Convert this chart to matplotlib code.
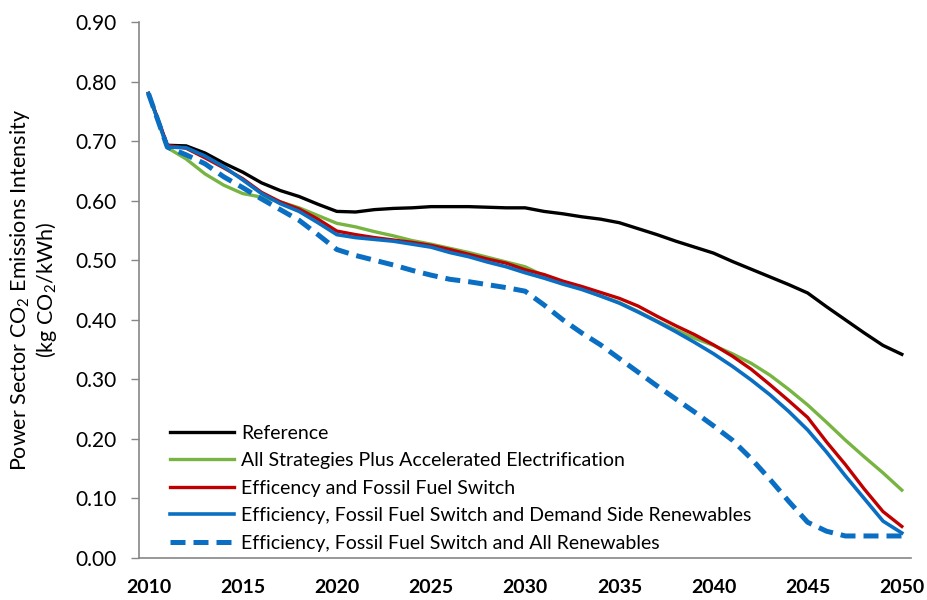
# Power sector CO2 emissions intensity under different strategy scenarios, 2010-2050

import numpy as np
import matplotlib.pyplot as plt

plt.rcParams['font.family'] = ['Lato', 'DejaVu Sans']

# Scenario data (kg CO2 / kWh) ..................................................
years = np.arange(2010, 2051)

reference = [0.780, 0.693, 0.692, 0.680, 0.663, 0.648, 0.630, 0.617, 0.607, 0.594,
             0.582, 0.581, 0.585, 0.587, 0.588, 0.590, 0.590, 0.590, 0.589, 0.588,
             0.588, 0.582, 0.578, 0.573, 0.569, 0.563, 0.553, 0.543, 0.532, 0.522,
             0.512, 0.498, 0.485, 0.472, 0.459, 0.445, 0.422, 0.400, 0.378, 0.357,
             0.342]

accel_electrification = [0.780, 0.689, 0.670, 0.645, 0.626, 0.612, 0.606, 0.598, 0.588, 0.575,
                         0.562, 0.556, 0.548, 0.541, 0.533, 0.527, 0.520, 0.513, 0.505, 0.497,
                         0.489, 0.474, 0.462, 0.452, 0.440, 0.429, 0.414, 0.398, 0.383, 0.369,
                         0.357, 0.343, 0.327, 0.307, 0.283, 0.257, 0.228, 0.198, 0.170, 0.143,
                         0.114]

efficiency_fuel_switch = [0.780, 0.693, 0.688, 0.672, 0.655, 0.637, 0.614, 0.598, 0.586, 0.569,
                          0.549, 0.543, 0.538, 0.534, 0.530, 0.525, 0.518, 0.510, 0.502, 0.495,
                          0.484, 0.476, 0.465, 0.456, 0.446, 0.436, 0.423, 0.406, 0.390, 0.375,
                          0.358, 0.339, 0.317, 0.291, 0.264, 0.236, 0.195, 0.157, 0.116, 0.078,
                          0.053]

demand_side_renewables = [0.780, 0.690, 0.689, 0.675, 0.657, 0.635, 0.612, 0.595, 0.582, 0.563,
                          0.543, 0.538, 0.535, 0.532, 0.527, 0.522, 0.513, 0.506, 0.497, 0.489,
                          0.479, 0.470, 0.460, 0.451, 0.440, 0.428, 0.413, 0.397, 0.380, 0.362,
                          0.343, 0.322, 0.299, 0.274, 0.246, 0.215, 0.178, 0.138, 0.100, 0.062,
                          0.042]

all_renewables = [0.780, 0.690, 0.677, 0.662, 0.640, 0.622, 0.603, 0.585, 0.567, 0.543,
                  0.518, 0.508, 0.500, 0.492, 0.483, 0.475, 0.468, 0.464, 0.459, 0.454,
                  0.448, 0.425, 0.400, 0.378, 0.358, 0.335, 0.312, 0.289, 0.267, 0.245,
                  0.222, 0.198, 0.167, 0.132, 0.095, 0.060, 0.045, 0.037, 0.037, 0.037,
                  0.037]

labels = ["Reference",
          "All Strategies Plus Accelerated Electrification",
          "Efficency and Fossil Fuel Switch",
          "Efficiency, Fossil Fuel Switch and Demand Side Renewables",
          "Efficiency, Fossil Fuel Switch and All Renewables"]

x_ticks = [2010, 2015, 2020, 2025, 2030, 2035, 2040, 2045, 2050]
y_ticks = np.arange(0, 0.91, 0.1)


# Plot ...........................................................................
fig = plt.figure(figsize=(9.27, 6), dpi=100)
ax = fig.add_axes([0.150, 0.07, 0.833, 0.8933])

blue = "#0A6FC2"
ax.plot(years, reference, color="black", lw=2.4, label=labels[0])
ax.plot(years, accel_electrification, color="#77B442", lw=2.4, label=labels[1])
ax.plot(years, efficiency_fuel_switch, color="#C00000", lw=2.4, label=labels[2])
ax.plot(years, demand_side_renewables, color=blue, lw=2.6, label=labels[3])
ax.plot(years, all_renewables, color=blue, lw=3.6, ls=(0, (3.0, 1.6)), label=labels[4])

ax.set_xlim(2009.5, 2050.5)
ax.set_ylim(0, 0.9)
ax.set_xticks(x_ticks)
ax.set_xticklabels([str(x) for x in x_ticks], fontweight="bold", fontsize=14)
ax.set_yticks(y_ticks)
ax.set_yticklabels([f"{y:.2f}" for y in y_ticks], fontsize=15)
ax.tick_params(axis="x", length=0, pad=15)
ax.tick_params(axis="y", direction="out", length=6, width=1, color="#868686", pad=10)

for side in ["top", "right"]:
    ax.spines[side].set_visible(False)
for side in ["left", "bottom"]:
    ax.spines[side].set_color("#868686")
    ax.spines[side].set_linewidth(1.2)

ax.set_ylabel("Power Sector CO$_\\mathregular{2}$ Emissions Intensity\n"
              "(kg CO$_\\mathregular{2}$/kWh)", fontsize=15.5, linespacing=1.1, labelpad=12)

ax.legend(loc="lower left", bbox_to_anchor=(0.025, -0.01), frameon=False, fontsize=14,
          handlelength=3.3, handletextpad=0.35, labelspacing=0.54, borderaxespad=0.2)

plt.savefig("out.png", dpi=100)
